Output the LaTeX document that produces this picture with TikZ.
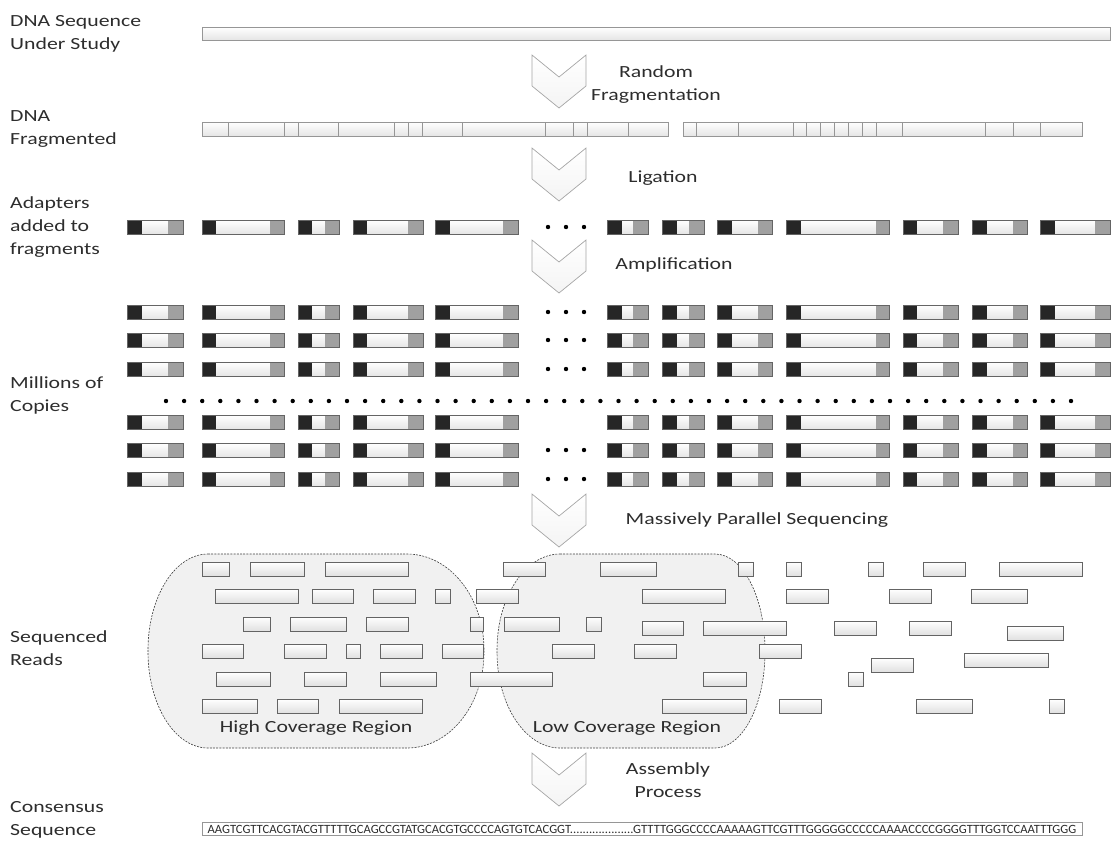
\documentclass[tikz,border=0pt]{standalone}
\usepackage{fontspec}
\setmainfont{Carlito}[FakeStretch=1.28]
\newfontfamily\seqfont{Carlito}
\usetikzlibrary{positioning}
\definecolor{adblack}{RGB}{38,38,38}
\definecolor{adgray}{RGB}{160,160,160}
\definecolor{edgegray}{RGB}{100,100,100}
\definecolor{lightedge}{RGB}{150,150,150}
\definecolor{regionfill}{RGB}{241,241,241}
\definecolor{chevfill}{RGB}{244,244,244}
\definecolor{chevedge}{RGB}{165,165,165}
\definecolor{textdark}{RGB}{45,45,45}

\begin{document}
\begin{tikzpicture}[x=1pt, y=-1pt,
  font=\fontsize{17}{23}\selectfont, text=textdark,
  sidelabel/.style={anchor=west, align=left, inner sep=0pt},
  steplabel/.style={align=center, inner sep=0pt},
  segbox/.style={draw=lightedge, line width=0.7pt, top color=white, bottom color=black!10},
  readbox/.style={draw=edgegray, line width=0.7pt, top color=white, bottom color=black!12},
  chevron/.style={draw=chevedge, line width=0.7pt, top color=white, bottom color=chevfill},
  region/.style={draw=black!75, line width=0.6pt, dash pattern=on 2pt off 1.2pt, fill=regionfill}]
\useasboundingbox (0,0) rectangle (1118,855);
% Left labels
\node[sidelabel] (lblstudy) at (10,34) {DNA Sequence\\Under Study};
\node[sidelabel] (lblfrag) at (10,129) {DNA\\Fragmented};
\node[sidelabel] (lbladapt) at (10,227) {Adapters\\added to\\fragments};
\node[sidelabel] (lblcopies) at (10,395) {Millions of\\Copies};
\node[sidelabel] (lblreads) at (10,648) {Sequenced\\Reads};
\node[sidelabel] (lblconsensus) at (10,820) {Consensus\\Sequence};
% Step labels
\node[steplabel] (labrandom) at (656,85) {Random\\Fragmentation};
\node[steplabel] (labligation) at (663,178) {Ligation};
\node[steplabel] (labamplify) at (674,265) {Amplification};
\node[steplabel] (labsequence) at (757,520) {Massively Parallel Sequencing};
\node[steplabel] (labassembly) at (668,780) {Assembly\\Process};
% Chevrons
\foreach \t in {55,148,240,494,753} {
  \draw[chevron] (532,\t) -- (559,{\t+22}) -- (586,\t) -- (586,{\t+31})
    -- (559,{\t+53}) -- (532,{\t+31}) -- cycle;
}
% DNA under study
\draw[segbox] (202,27) rectangle (1110,40);
% Fragmented DNA
\draw[segbox] (202,122) rectangle (668,136);
\draw[segbox] (683,122) rectangle (1082,136);
\foreach \x in {228,284,298,338,394,408,422,462,545,573,587,628,
                696,738,793,806,820,834,848,862,876,902,985,1013,1040} {
  \draw[lightedge, line width=0.7pt] (\x,122) -- (\x,136);
}
% Adapter-tagged fragments and their copies
\foreach \y in {227,312,340,369,422,450,479} {
  \foreach \a/\b/\c/\d in {127/142/168/183, 202/216/270/284, 298/312/325/339,
      353/367/408/423, 435/450/503/518, 607/622/633/648, 662/677/689/704,
      717/732/758/772, 786/801/876/889, 903/917/943/958, 972/987/1013/1027,
      1040/1055/1095/1110} {
    \shade[top color=white, bottom color=black!10] (\b,{\y-7}) rectangle (\c,{\y+7});
    \fill[adblack] (\a,{\y-7}) rectangle (\b,{\y+7});
    \fill[adgray] (\c,{\y-7}) rectangle (\d,{\y+7});
    \draw[edgegray, line width=0.7pt] (\a,{\y-7}) rectangle (\d,{\y+7});
  }
}
\foreach \y in {227,312,340,369,450,479} {
  \foreach \x in {548,566,584} {
    \fill (\x,\y) circle (2.2pt);
  }
}
\foreach \i in {0,...,50} {
  \fill ({166+18.1*\i},401) circle (2.2pt);
}
% Coverage regions
\foreach \xa/\xb/\rl/\rr in {148/484/60/77, 497/765/63/50} {
  \draw[region] ({\xa+\rl},554) -- ({\xb-\rr},554)
    arc[start angle=-90, end angle=0, x radius=\rr, y radius=96]
    -- (\xb,652)
    arc[start angle=0, end angle=90, x radius=\rr, y radius=96]
    -- ({\xa+\rl},748)
    arc[start angle=90, end angle=180, x radius=\rl, y radius=96]
    -- (\xa,650)
    arc[start angle=180, end angle=270, x radius=\rl, y radius=96]
    -- cycle;
}
% Sequenced reads
\foreach \a/\b/\t in {202/229/562, 250/304/562, 325/408/562, 503/545/562,
    600/656/562, 738/753/562, 786/801/562, 868/883/562, 923/965/562, 999/1082/562,
    215/298/589, 312/353/589, 373/415/589, 435/450/589, 476/518/589,
    642/725/589, 786/828/589, 889/931/589, 971/1027/589,
    243/270/617, 290/346/617, 366/408/617, 470/483/617, 504/559/617, 586/601/617,
    642/683/621, 703/786/621, 834/876/621, 909/951/621, 1007/1063/626,
    202/243/644, 284/326/644, 346/360/644, 380/422/644, 442/483/644,
    552/594/644, 634/676/644, 759/801/644, 964/1048/653, 871/913/658,
    216/270/672, 304/346/672, 380/436/672, 470/552/672, 703/746/672, 848/863/672,
    202/257/699, 277/318/699, 339/422/699, 662/746/699, 779/821/699,
    916/972/699, 1049/1064/699} {
  \draw[readbox] (\a,\t) rectangle (\b,{\t+14});
}
\node (lblhigh) at (316,728) {High Coverage Region};
\node (lbllow) at (627,728) {Low Coverage Region};
% Consensus sequence
\draw[lightedge, line width=0.7pt, fill=white] (202,822) rectangle (1082,835);
\node[inner sep=0pt, font=\seqfont\fontsize{12.6}{13}\selectfont] (consensus) at (642,829)
  {AAGTCGTTCACGTACGTTTTTGCAGCCGTATGCACGTGCCCCAGTGTCACGGT....................GTTTTGGGCCCCAAAAAGTTCGTTTGGGGGCCCCCAAAACCCCGGGGTTTGGTCCAATTTGGG};
\end{tikzpicture}
\end{document}
